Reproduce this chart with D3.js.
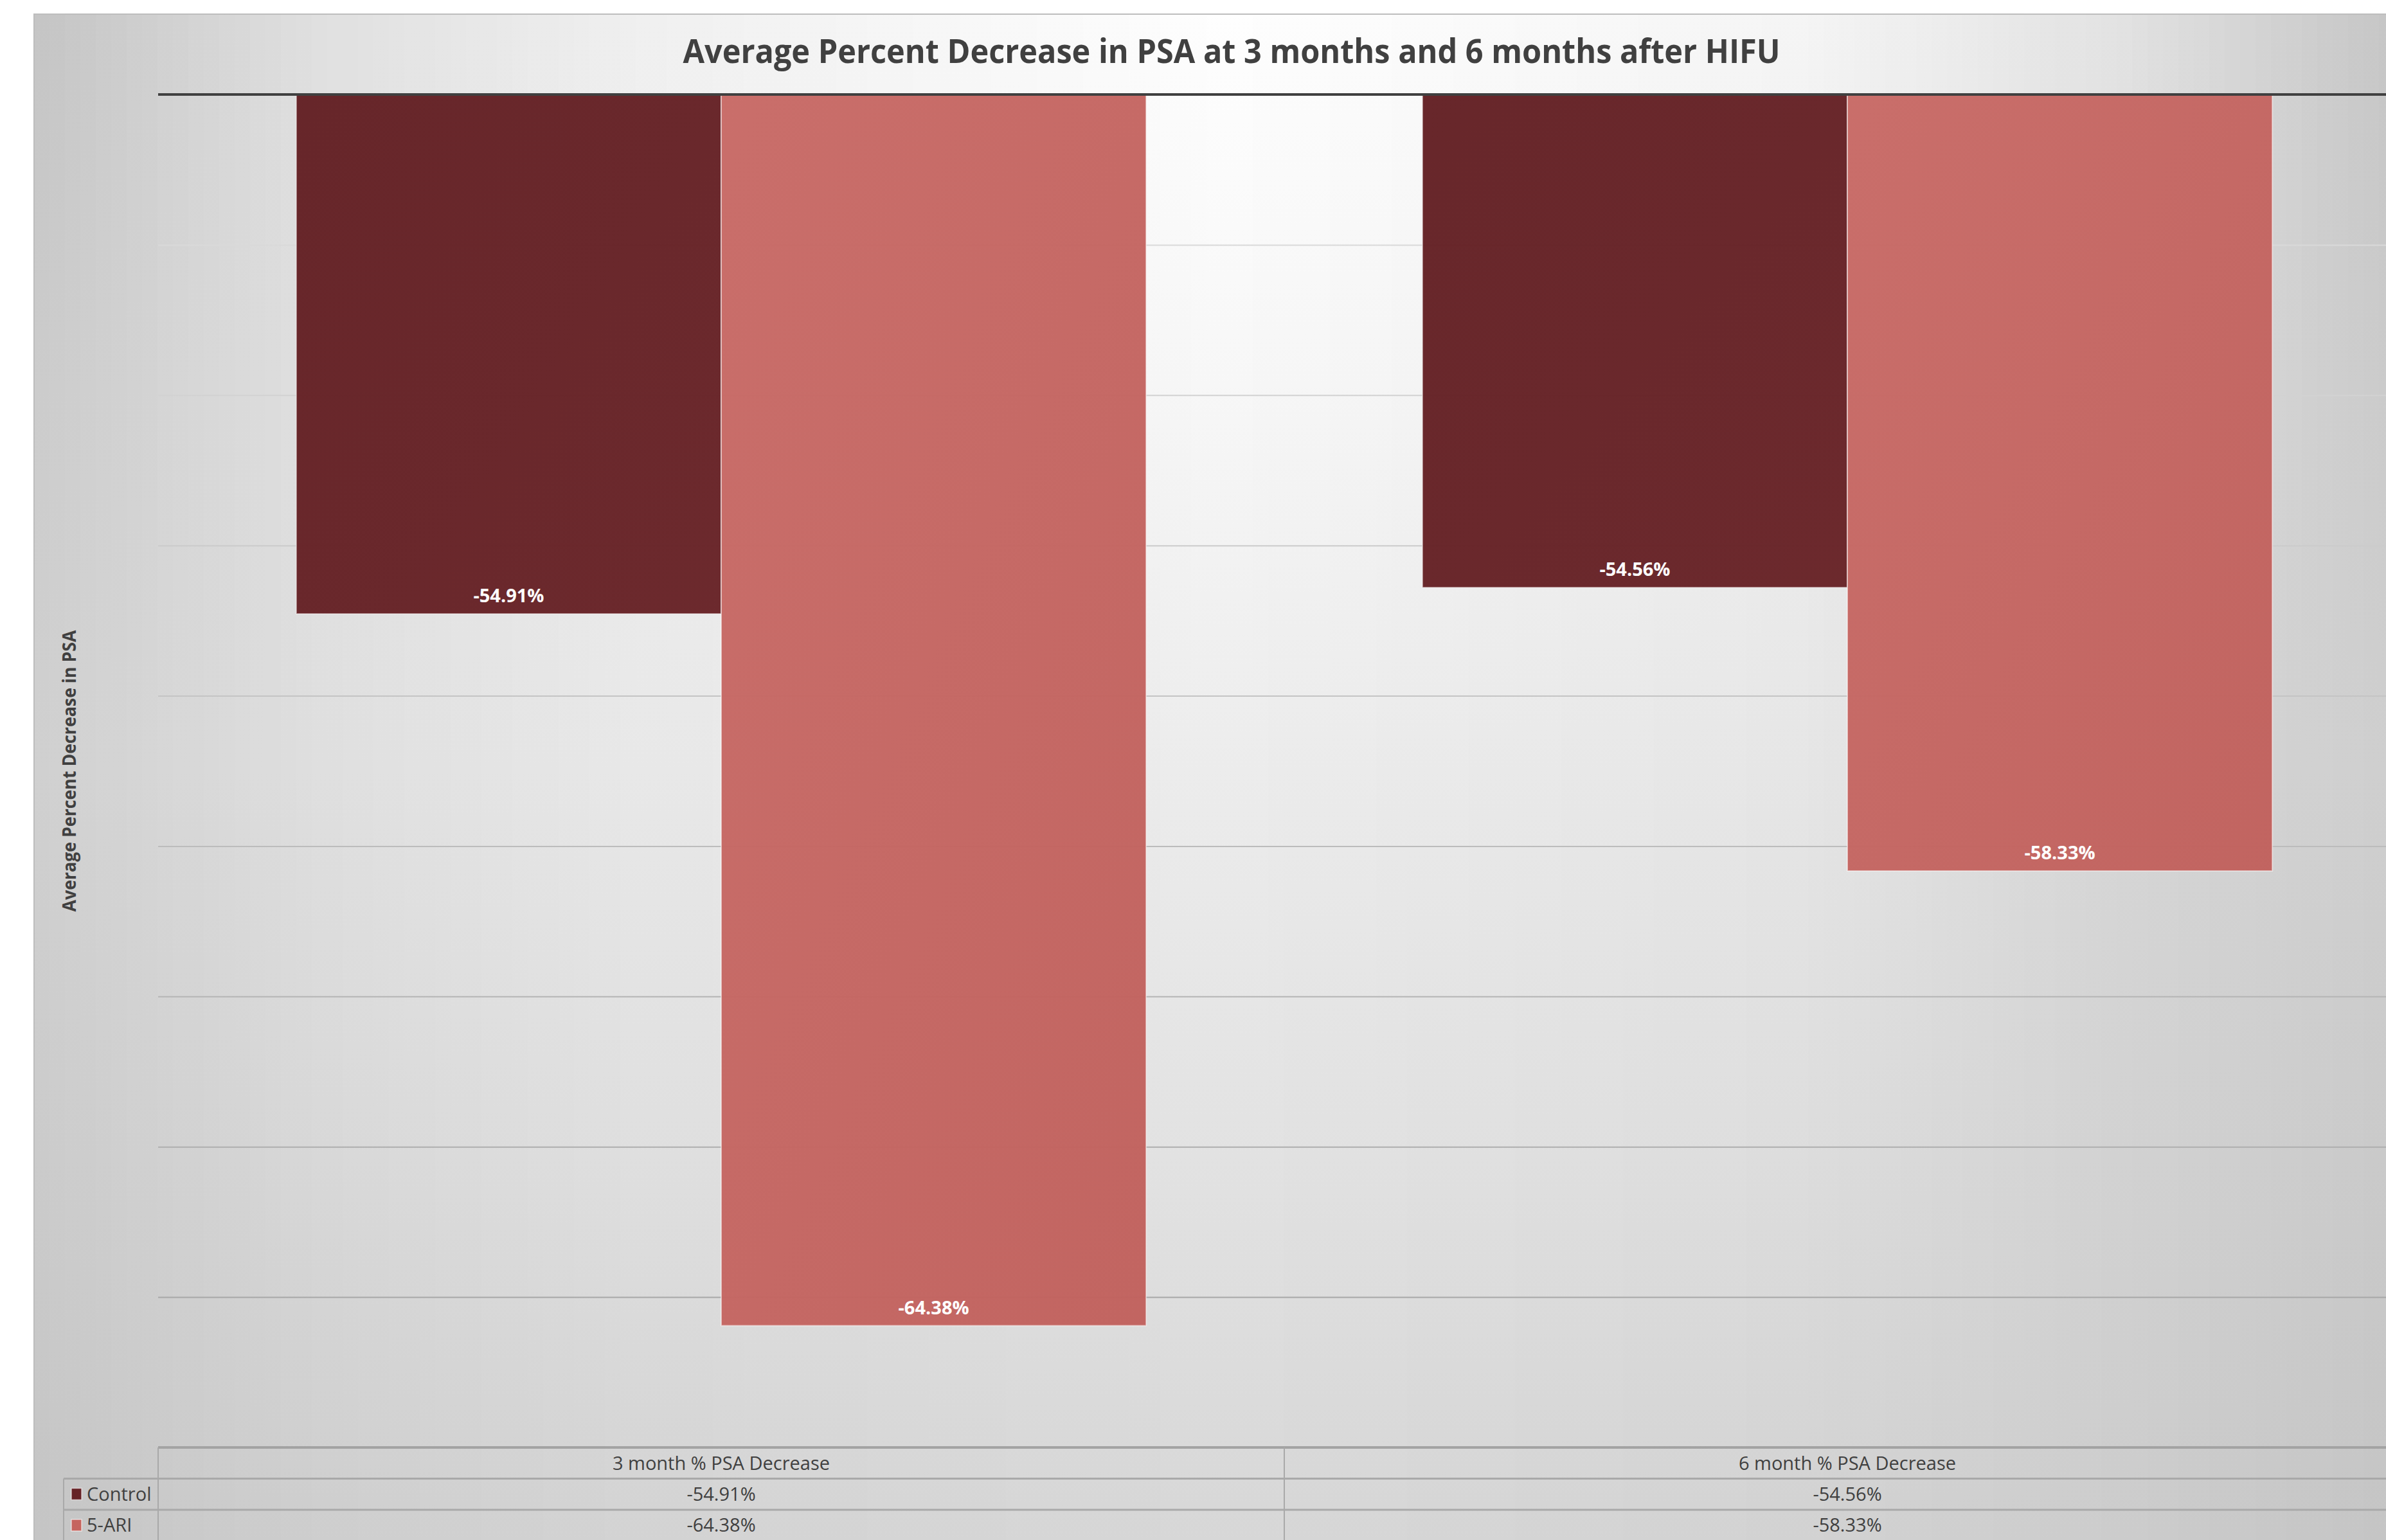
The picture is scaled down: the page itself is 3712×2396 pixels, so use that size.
<!DOCTYPE html>
<html>
<head>
<meta charset="utf-8">
<script src="https://cdn.jsdelivr.net/npm/d3@7"></script>
<style>
  html, body { margin: 0; padding: 0; background: #fff; overflow: hidden; }
  text { font-family: "Open Sans", "Noto Sans", sans-serif; }
</style>
</head>
<body>
<div id="chart"></div>
<script>
// data
var categories = ["3 month % PSA Decrease", "6 month % PSA Decrease"];
var seriesNames = ["Control", "5-ARI"];
var controlValues = [-54.91, -54.56];
var ariValues = [-64.38, -58.33];
var seriesColors = ["#662226", "#c5655f"];

var chartTitle = "Average Percent Decrease in PSA at 3 months and 6 months after HIFU";
var yTitle = "Average Percent Decrease in PSA";

renderChart();

function renderChart() {

var width = 3712;
var height = 2396;

// plot area box
var left = 246, right = 3750, top = 147, bottom = 2252;

var svg = d3.select("#chart")
        .append("svg")
        .attr("width", width)
        .attr("height", height);

var defs = svg.append("defs");

// chart-area shading: grey level sampled on a coarse grid, drawn as strips
var shadeX = [53, 500, 1000, 1910, 2800, 3300, 3712];
var shadeY = [22, 600, 1200, 1800, 2396];
var shade = [
  [196, 224, 240, 254, 245, 226, 198],
  [203, 224, 237, 247, 238, 222, 203],
  [208, 223, 232, 236, 230, 214, 207],
  [203, 216, 223, 226, 221, 210, 202],
  [197, 206, 211, 215, 210, 204, 197]
];
var shadeRows = shade.map(function(row) {
  return d3.scaleLinear().domain(shadeX).range(row).clamp(true);
});
var strips = d3.range(53, width, 24);
strips.forEach(function(sx, i) {
  var g = defs.append("linearGradient")
          .attr("id", "bgs" + i)
          .attr("gradientUnits", "userSpaceOnUse")
          .attr("x1", 0).attr("x2", 0)
          .attr("y1", 0).attr("y2", height);
  shadeY.forEach(function(yy, k) {
    var v = Math.round(shadeRows[k](sx + 12));
    g.append("stop").attr("offset", yy / height).attr("stop-color", d3.rgb(v, v, v));
  });
});

var barGrad = [["#632024", "#682327"], ["#c86a66", "#c1615d"]];
barGrad.forEach(function(c, i) {
  var g = defs.append("linearGradient")
          .attr("id", "bar" + i)
          .attr("x1", 0).attr("y1", 0).attr("x2", 1).attr("y2", 1);
  g.append("stop").attr("offset", 0).attr("stop-color", c[0]);
  g.append("stop").attr("offset", 1).attr("stop-color", c[1]);
});

// chart area
svg.append("g")
    .selectAll("rect")
    .data(strips)
    .enter().append("rect")
    .attr("x", function(d) { return d; })
    .attr("y", 22)
    .attr("width", 25)
    .attr("height", height)
    .attr("fill", function(d, i) { return "url(#bgs" + i + ")"; });

svg.append("rect")
    .attr("x", 53).attr("y", 22)
    .attr("width", width).attr("height", height)
    .attr("fill", "none")
    .attr("stroke", "#bdbdbd")
    .attr("stroke-width", 2);

svg.append("text")
    .attr("x", 1916).attr("y", 98)
    .attr("text-anchor", "middle")
    .attr("font-size", 52)
    .attr("font-weight", 700)
    .attr("fill", "#404040")
    .attr("textLength", 1707)
    .attr("lengthAdjust", "spacingAndGlyphs")
    .text(chartTitle);

var x = d3.scaleBand()
    .domain(categories)
    .range([left, right])
    .padding(0);

var xs = d3.scaleBand()
    .domain(seriesNames)
    .range([0, x.bandwidth()])
    .paddingInner(0)
    .paddingOuter(0.325);

var y = d3.scaleLinear()
    .domain([-48, -66])
    .range([top, bottom]);

var gridColor = d3.scaleLinear()
    .domain([top, bottom])
    .range(["#e0e0e0", "#a0a0a0"]);

// gridlines
var grid = svg.append("g")
    .attr("transform", "translate(" + left + ",0)")
    .call(d3.axisLeft(y).ticks(9).tickSize(-(right - left)).tickFormat(""));
grid.select(".domain").remove();
grid.selectAll(".tick line")
    .attr("stroke", function(d) { return gridColor(y(d)); })
    .attr("stroke-width", 2);

// bars
var rows = categories.map(function(c, i) {
  return { cat: c, vals: [controlValues[i], ariValues[i]] };
});

var groups = svg.append("g")
    .selectAll("g")
    .data(rows)
    .enter().append("g")
    .attr("transform", function(d) { return "translate(" + x(d.cat) + ",0)"; });

var bars = groups.selectAll("g")
    .data(function(d) {
      return d.vals.map(function(v, j) { return { name: seriesNames[j], value: v, idx: j }; });
    })
    .enter().append("g");

bars.append("rect")
    .attr("x", function(d) { return xs(d.name); })
    .attr("y", y(-48))
    .attr("width", xs.bandwidth())
    .attr("height", function(d) { return y(d.value) - y(-48); })
    .attr("fill", function(d) { return "url(#bar" + d.idx + ")"; })
    .attr("fill-opacity", 0.97)
    .attr("stroke", "rgba(255,255,255,0.5)")
    .attr("stroke-width", 2);

bars.append("text")
    .attr("x", function(d) { return xs(d.name) + xs.bandwidth() / 2; })
    .attr("y", function(d) { return y(d.value) - 18; })
    .attr("text-anchor", "middle")
    .attr("font-size", 29)
    .attr("font-weight", 700)
    .attr("fill", "#ffffff")
    .text(function(d) { return d.value.toFixed(2) + "%"; });

// top axis line
svg.append("line")
    .attr("x1", left).attr("x2", right)
    .attr("y1", y(-48)).attr("y2", y(-48))
    .attr("stroke", "#404040")
    .attr("stroke-width", 4);

// y title
svg.append("text")
    .attr("transform", "translate(118," + ((top + bottom) / 2) + ") rotate(-90)")
    .attr("text-anchor", "middle")
    .attr("font-size", 29)
    .attr("font-weight", 700)
    .attr("fill", "#404040")
    .attr("textLength", 438)
    .attr("lengthAdjust", "spacingAndGlyphs")
    .text(yTitle);

// data table under the plot
var rowH = 48.5;
var legendLeft = 99;
var table = svg.append("g");

table.append("line")
    .attr("x1", left).attr("x2", right)
    .attr("y1", bottom).attr("y2", bottom)
    .attr("stroke", "#a3a3a3").attr("stroke-width", 4);

[1, 2, 3].forEach(function(r) {
  table.append("line")
      .attr("x1", legendLeft).attr("x2", right)
      .attr("y1", bottom + r * rowH).attr("y2", bottom + r * rowH)
      .attr("stroke", "#a9a9a9").attr("stroke-width", 3);
});

table.append("line")
    .attr("x1", legendLeft).attr("x2", legendLeft)
    .attr("y1", bottom + rowH).attr("y2", height + 10)
    .attr("stroke", "#a9a9a9").attr("stroke-width", 2);

categories.concat([null]).forEach(function(c) {
  var xx = c === null ? right : x(c);
  table.append("line")
      .attr("x1", xx).attr("x2", xx)
      .attr("y1", bottom).attr("y2", height + 10)
      .attr("stroke", "#a9a9a9").attr("stroke-width", 2);
});

table.selectAll(".hdr")
    .data(categories)
    .enter().append("text")
    .attr("class", "hdr")
    .attr("x", function(d) { return x(d) + x.bandwidth() / 2; })
    .attr("y", bottom + 35)
    .attr("text-anchor", "middle")
    .attr("font-size", 29)
    .attr("fill", "#404040")
    .text(function(d) { return d; });

var seriesVals = [controlValues, ariValues];
seriesNames.forEach(function(name, j) {
  var rowTop = bottom + (j + 1) * rowH;
  table.append("rect")
      .attr("x", 111).attr("y", rowTop + 15)
      .attr("width", 16).attr("height", 18)
      .attr("fill", seriesColors[j])
      .attr("stroke", "rgba(255,255,255,0.6)")
      .attr("stroke-width", 1.5);
  table.append("text")
      .attr("x", 135).attr("y", rowTop + 34)
      .attr("font-size", 29)
      .attr("fill", "#404040")
      .text(name);
  table.selectAll(".v" + j)
      .data(seriesVals[j])
      .enter().append("text")
      .attr("class", "v" + j)
      .attr("x", function(d, i) { return x(categories[i]) + x.bandwidth() / 2; })
      .attr("y", rowTop + 34)
      .attr("text-anchor", "middle")
      .attr("font-size", 29)
      .attr("fill", "#404040")
      .text(function(d) { return d.toFixed(2) + "%"; });
});

}
</script>
</body>
</html>
